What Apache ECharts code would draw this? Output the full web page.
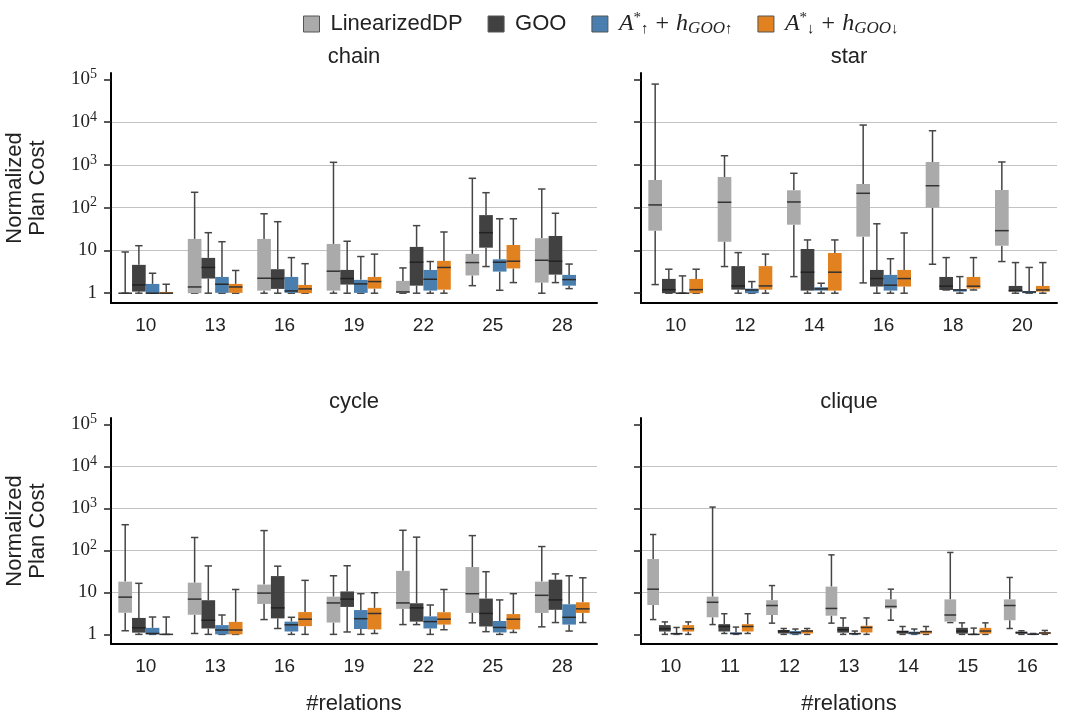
<!DOCTYPE html>
<html>
<head>
<meta charset="utf-8">
<script src="https://cdn.jsdelivr.net/npm/echarts@6/dist/echarts.min.js"></script>
<style>
  html, body { margin: 0; padding: 0; background: #fff; }
  #main { width: 1066px; height: 716px; }
</style>
</head>
<body>
<div id="main"></div>
<script>
var chainCats = ['10', '13', '16', '19', '22', '25', '28'];
var starCats = ['10', '12', '14', '16', '18', '20'];
var cycleCats = ['10', '13', '16', '19', '22', '25', '28'];
var cliqueCats = ['10', '11', '12', '13', '14', '15', '16'];
var yTicks = [1, 10, 100, 1000, 10000, 100000];

// each box: [low whisker, q1, median, q3, high whisker]
var chainLDP = [[1, 1, 1, 1, 9.2], [1, 1, 1.4, 18.6, 229], [1, 1.15, 2.24, 18.6, 72], [1, 1.15, 3.27, 14.2, 1150], [1, 1.02, 1.07, 1.94, 3.9], [1.5, 2.6, 5.2, 8.3, 486], [1, 1.77, 5.9, 19.3, 273]];
var chainGOO = [[1, 1.09, 1.56, 4.6, 12.9], [1, 2.2, 4.0, 6.7, 26], [1, 1.26, 2.2, 3.64, 47], [1, 1.59, 2.2, 3.5, 16.4], [1, 1.5, 5.3, 12.1, 38], [4.2, 11.6, 26, 67, 224], [1.77, 2.72, 5.6, 21.8, 74]];
var chainUp = [[1, 1, 1, 1.65, 2.93], [1, 1.02, 1.62, 2.4, 16], [1, 1.02, 1.13, 2.4, 6.8], [1, 1.02, 1.65, 2.05, 7.2], [1, 1.15, 2.12, 3.5, 5.5], [1.17, 3.2, 5.3, 6.2, 55], [1.28, 1.5, 2.08, 2.68, 4.8]];
var chainDown = [[1, 1, 1, 1.07, 1.62], [1, 1.02, 1.4, 1.65, 3.4], [1, 1, 1.26, 1.56, 4.9], [1, 1.28, 1.87, 2.4, 8.2], [1, 1.21, 4.0, 5.7, 27], [1.77, 3.8, 5.6, 13.4, 55], null];

var starLDP = [[1.59, 29, 116, 444, 77600], [4.2, 16, 134, 521, 1640], [2.44, 40, 136, 255, 637], [1.74, 21, 217, 358, 8550], [4.76, 100, 326, 1170, 6300], [5.5, 12.9, 29, 259, 1170]];
var starGOO = [[1, 1, 1.21, 2.16, 3.64], [1, 1.21, 1.48, 4.3, 8.9], [1, 1.15, 3.1, 10.8, 17.6], [1, 1.43, 2.2, 3.5, 42], [1.19, 1.19, 1.46, 2.4, 6.8], [1, 1.09, 1.15, 1.48, 5.2]];
var starUp = [[1, 1, 1, 1, 2.54], [1, 1, 1.19, 1.28, 1.87], [1, 1.15, 1.26, 1.38, 1.71], [1, 1.15, 1.54, 2.68, 6.4], [1, 1.09, 1.19, 1.24, 2.44], [1, 1, 1.07, 1.11, 4.0]];
var starDown = [[1, 1, 1.21, 2.16, 3.64], [1, 1.21, 1.48, 4.3, 8.2], [1, 1.15, 3.1, 8.7, 17.6], [1, 1.43, 2.2, 3.5, 25.6], [1.19, 1.28, 1.46, 2.4, 6.8], [1, 1.09, 1.19, 1.48, 5.2]];

var cycleLDP = [[1.22, 3.27, 7.7, 18, 407], [1.05, 2.93, 6.9, 17, 202], [2.25, 5.3, 9.6, 15.3, 295], [1, 1.91, 5.6, 7.9, 24.8], [1.71, 4.05, 5.6, 32.5, 300], [1.88, 3.24, 9.3, 40, 224], [1.51, 3.24, 8.5, 18, 123]];
var cycleGOO = [[1, 1.1, 1.43, 2.46, 16.4], [1, 1.38, 2.17, 6.5, 42.5], [1.38, 2.4, 4.27, 24.4, 42], [1.14, 4.5, 6.9, 10.5, 43], [1.71, 2.01, 4.27, 5.5, 206], [1.16, 1.54, 3.15, 7.1, 31], [1.91, 3.84, 6.6, 20, 27.5]];
var cycleUp = [[1, 1, 1.05, 1.43, 2.59], [1, 1, 1.27, 1.66, 2.89], [1, 1.17, 1.69, 2.01, 2.55], [1, 1.34, 2.36, 3.79, 9.3], [1, 1.38, 2.01, 2.68, 5.0], [1, 1.11, 1.46, 2.08, 6.6], [1.2, 1.71, 2.55, 5.2, 24.8]];
var cycleDown = [[1, 1, 1, 1, 2.59], [1, 1, 1.27, 1.98, 11.7], [1, 1.57, 2.3, 3.39, 19.3], [1.05, 1.31, 3.14, 4.27, 9.8], [1.29, 1.71, 2.3, 3.36, 11.7], [1.11, 1.31, 2.3, 3.04, 9.3], [1.91, 3.24, 4.05, 5.8, 22.2]];

var cliqueLDP = [[2.25, 5.0, 11.9, 62, 238], [1.71, 2.55, 5.8, 7.9, 1070], [1.85, 2.89, 4.86, 6.5, 14.5], [1.85, 2.78, 4.14, 13.7, 78], [2.17, 4.14, 4.6, 6.8, 11.9], [1.91, 2.01, 2.89, 6.8, 89], [1.38, 2.17, 4.86, 6.8, 22.6]];
var cliqueGOO = [[1, 1.17, 1.36, 1.66, 1.98], [1.05, 1.17, 1.54, 1.75, 3.1], [1, 1.05, 1.2, 1.27, 1.38], [1, 1.1, 1.29, 1.51, 2.46], [1, 1.04, 1.16, 1.22, 1.54], [1, 1.04, 1.2, 1.43, 1.88], [1, 1.04, 1.1, 1.16, 1.22]];
var cliqueUp = [[1, 1, 1.04, 1.08, 1.46], [1, 1, 1.05, 1.11, 1.49], [1, 1, 1.1, 1.2, 1.34], [1, 1, 1.04, 1.08, 1.2], [1, 1, 1.08, 1.16, 1.34], [1, 1, 1, 1.02, 1.41], [1, 1, 1.01, 1.03, 1.05]];
var cliqueDown = [[1, 1.17, 1.36, 1.66, 1.98], [1.05, 1.17, 1.54, 1.75, 3.1], [1, 1.05, 1.2, 1.27, 1.38], [1, 1.11, 1.46, 1.6, 2.46], [1, 1.04, 1.16, 1.22, 1.54], [1, 1.04, 1.2, 1.43, 1.88], [1, 1.02, 1.08, 1.11, 1.24]];

var names = ['LinearizedDP', 'GOO', 'A*↑ + hGOO↑', 'A*↓ + hGOO↓'];
var colors = ['#aaaaaa', '#414141', '#4a7eae', '#e1811f'];
var medColors = ['#333333', '#222222', '#2a2a2a', '#333333'];

var panels = [
  { title: 'chain', cats: chainCats, sets: [chainLDP, chainGOO, chainUp, chainDown] },
  { title: 'star', cats: starCats, sets: [starLDP, starGOO, starUp, starDown] },
  { title: 'cycle', cats: cycleCats, sets: [cycleLDP, cycleGOO, cycleUp, cycleDown] },
  { title: 'clique', cats: cliqueCats, sets: [cliqueLDP, cliqueGOO, cliqueUp, cliqueDown] }
];

var font = 'Liberation Sans';
var serif = 'Liberation Serif';
var yMin = 0.59, yMax = 1.41e5;

function renderer(k) {
  return function (params, api) {
    var c = api.value(0);
    var pLo = api.coord([c, api.value(1)]);
    var pQ1 = api.coord([c, api.value(2)]);
    var pMed = api.coord([c, api.value(3)]);
    var pQ3 = api.coord([c, api.value(4)]);
    var pHi = api.coord([c, api.value(5)]);
    var band = api.size([1, 1], [c, 1])[0];
    var w = band * 0.197;
    var cx = pLo[0] + (k - 1.5) * w;
    var cap = w * 0.27;
    var ws = { stroke: '#454545', lineWidth: 1.5 };
    return {
      type: 'group',
      children: [
        { type: 'line', shape: { x1: cx, y1: pLo[1], x2: cx, y2: pQ1[1] }, style: ws },
        { type: 'line', shape: { x1: cx, y1: pQ3[1], x2: cx, y2: pHi[1] }, style: ws },
        { type: 'line', shape: { x1: cx - cap, y1: pLo[1], x2: cx + cap, y2: pLo[1] }, style: ws },
        { type: 'line', shape: { x1: cx - cap, y1: pHi[1], x2: cx + cap, y2: pHi[1] }, style: ws },
        { type: 'rect', shape: { x: cx - w / 2, y: pQ3[1], width: w, height: pQ1[1] - pQ3[1] }, style: { fill: colors[k] } },
        { type: 'line', shape: { x1: cx - w / 2, y1: pMed[1], x2: cx + w / 2, y2: pMed[1] }, style: { stroke: medColors[k], lineWidth: 1.5 } }
      ]
    };
  };
}

var grids = [
  { left: 111, top: 73, width: 486, height: 230 },
  { left: 641, top: 73, width: 416, height: 230 },
  { left: 111, top: 418, width: 486, height: 231 },
  { left: 641, top: 418, width: 416, height: 231 }
];

var xAxes = [], yAxes = [], series = [], graphics = [];
panels.forEach(function (p, gi) {
  var bottom = gi >= 2, left = gi % 2 === 0;
  xAxes.push({
    type: 'category', gridIndex: gi, data: p.cats,
    axisLine: { onZero: false, lineStyle: { color: '#000', width: 2 } },
    axisTick: { alignWithLabel: true, length: 7, lineStyle: { color: '#222', width: 1.5 } },
    axisLabel: { fontFamily: font, fontSize: 19, color: '#222', margin: 13 },
    name: bottom ? '#relations' : '', nameLocation: 'middle', nameGap: 49,
    nameTextStyle: { fontFamily: font, fontSize: 22, color: '#222' }
  });
  yAxes.push({
    type: 'log', logBase: 10, gridIndex: gi, min: yMin, max: yMax,
    axisLine: { show: true, lineStyle: { color: '#000', width: 2 } },
    axisTick: { show: true, length: 7, customValues: yTicks, lineStyle: { color: '#222', width: 1.5 } },
    axisLabel: {
      show: left, customValues: yTicks, margin: 14, color: '#222',
      fontFamily: serif, fontSize: 19,
      formatter: function (v) {
        var e = Math.round(Math.log(v) / Math.LN10);
        if (e === 0) return '{b|1}';
        if (e === 1) return '{b|10}';
        return '{b|10}{s|' + e + '}';
      },
      rich: {
        b: { fontFamily: serif, fontSize: 19, color: '#222', lineHeight: 24 },
        s: { fontFamily: serif, fontSize: 14, color: '#222', verticalAlign: 'top', lineHeight: 14 }
      }
    },
    splitLine: { show: true, showMinLine: false, showMaxLine: false, lineStyle: { color: '#c2c2c2', width: 1.2 } },
    name: left ? 'Normalized\nPlan Cost' : '', nameLocation: 'middle', nameGap: 62,
    nameTextStyle: { fontFamily: font, fontSize: 22, color: '#222', lineHeight: 23 }
  });
  p.sets.forEach(function (arr, k) {
    var data = [];
    arr.forEach(function (v, i) { if (v) data.push([i].concat(v)); });
    series.push({
      type: 'custom', name: names[k], xAxisIndex: gi, yAxisIndex: gi,
      itemStyle: { color: colors[k] },
      renderItem: renderer(k),
      encode: { x: 0, y: [1, 2, 3, 4, 5] },
      data: data
    });
  });
  graphics.push({
    type: 'text', x: grids[gi].left + grids[gi].width / 2, y: grids[gi].top - 16,
    style: { text: p.title, fontFamily: font, fontSize: 22, fill: '#222', textAlign: 'center', textVerticalAlign: 'middle' }
  });
});

var chart = echarts.init(document.getElementById('main'));
chart.setOption({
  backgroundColor: '#fff',
  animation: false,
  grid: grids,
  xAxis: xAxes,
  yAxis: yAxes,
  legend: {
    data: names, left: 298, top: 6, icon: 'rect', itemWidth: 16, itemHeight: 16, itemGap: 25,
    itemStyle: { borderColor: '#555', borderWidth: 1 },
    textStyle: { fontFamily: font, fontSize: 22, color: '#222', padding: [0, 0, 0, 6], lineHeight: 26,
      rich: {
        it: { fontFamily: serif, fontStyle: 'italic', fontSize: 24, color: '#222' },
        op: { fontFamily: serif, fontSize: 24, color: '#222', padding: [0, 7, 0, 7] },
        sp: { fontFamily: serif, fontSize: 15, color: '#222', verticalAlign: 'top', lineHeight: 12 },
        sb: { fontFamily: serif, fontSize: 15, color: '#222', verticalAlign: 'bottom', lineHeight: 12 },
        sbi: { fontFamily: serif, fontStyle: 'italic', fontSize: 17, color: '#222', verticalAlign: 'bottom', lineHeight: 15 }
      }
    },
    formatter: function (n) {
      if (n === names[2]) return '{it|A}{sp|*}{sb|↑}{op|+}{it|h}{sbi|GOO}{sb|↑}';
      if (n === names[3]) return '{it|A}{sp|*}{sb|↓}{op|+}{it|h}{sbi|GOO}{sb|↓}';
      return n;
    }
  },
  graphic: graphics,
  series: series
});
</script>
</body>
</html>
